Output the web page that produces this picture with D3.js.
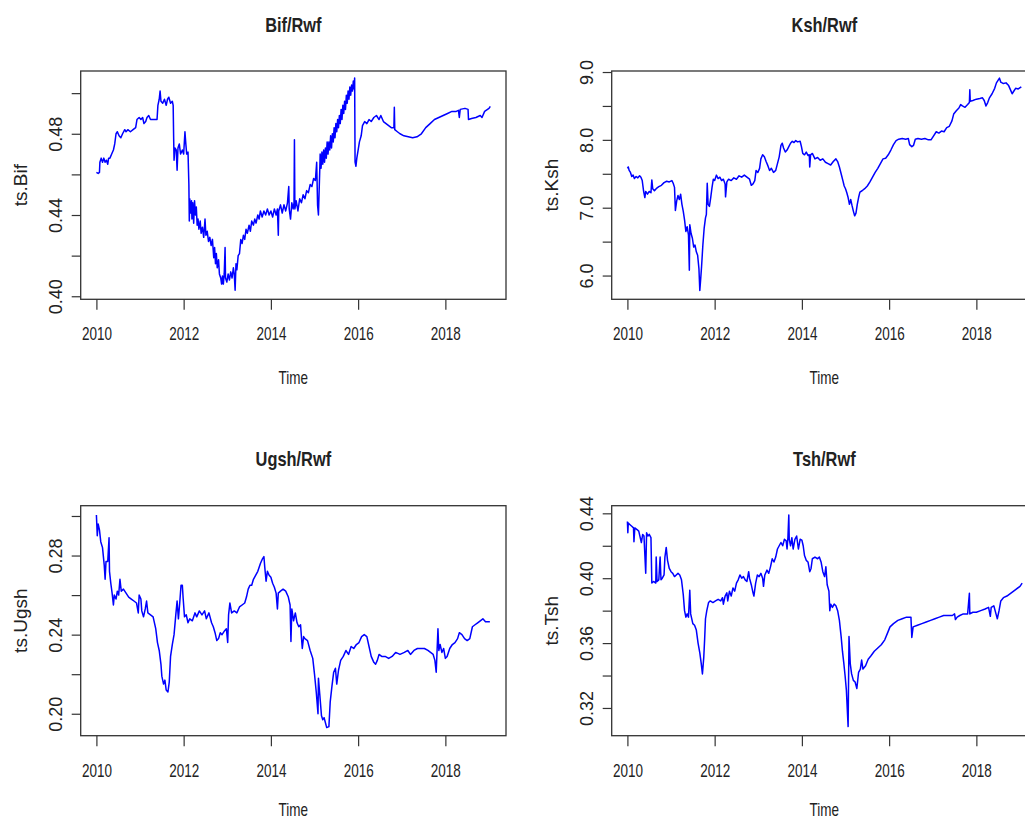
<!DOCTYPE html>
<html>
<head>
<meta charset="utf-8">
<script src="https://cdn.jsdelivr.net/npm/d3@7"></script>
<style>
  body { margin: 0; background: #fff; }
  text { font-family: "Liberation Sans", Arial, sans-serif; fill: #222; }
</style>
</head>
<body>
<div id="chart"></div>
<script>
// ---- data: [decimal year, rate] ----
var bif = [[2010.00,0.461],[2010.04,0.4605],[2010.07,0.461],[2010.08,0.466],[2010.11,0.468],[2010.14,0.466],[2010.17,0.468],[2010.20,0.466],[2010.23,0.467],[2010.26,0.465],[2010.28,0.468],[2010.31,0.468],[2010.35,0.470],[2010.39,0.472],[2010.42,0.475],[2010.45,0.480],[2010.48,0.481],[2010.52,0.479],[2010.56,0.478],[2010.60,0.480],[2010.65,0.482],[2010.68,0.481],[2010.72,0.482],[2010.78,0.481],[2010.84,0.482],[2010.90,0.483],[2010.93,0.487],[2010.98,0.488],[2011.02,0.487],[2011.06,0.488],[2011.09,0.485],[2011.13,0.486],[2011.16,0.488],[2011.20,0.489],[2011.24,0.487],[2011.30,0.487],[2011.36,0.487],[2011.39,0.487],[2011.41,0.494],[2011.44,0.497],[2011.46,0.501],[2011.48,0.496],[2011.52,0.495],[2011.56,0.497],[2011.60,0.494],[2011.63,0.497],[2011.66,0.498],[2011.70,0.495],[2011.74,0.496],[2011.76,0.494],[2011.77,0.479],[2011.78,0.467],[2011.80,0.473],[2011.83,0.472],[2011.85,0.462],[2011.87,0.473],[2011.90,0.475],[2011.93,0.470],[2011.97,0.472],[2012.00,0.470],[2012.03,0.481],[2012.05,0.475],[2012.07,0.470],[2012.10,0.471],
  [2012.12,0.455],[2012.13,0.437],[2012.14,0.448],[2012.16,0.441],[2012.18,0.447],[2012.19,0.438],[2012.21,0.446],[2012.23,0.436],[2012.25,0.447],[2012.27,0.440],[2012.29,0.444],[2012.31,0.435],[2012.33,0.438],[2012.35,0.433],[2012.38,0.437],[2012.40,0.431],[2012.43,0.434],[2012.46,0.429],[2012.49,0.438],[2012.51,0.430],[2012.54,0.432],[2012.57,0.427],[2012.60,0.429],[2012.63,0.425],[2012.66,0.428],[2012.69,0.419],[2012.71,0.424],[2012.73,0.416],[2012.75,0.421],[2012.77,0.414],[2012.80,0.418],[2012.82,0.411],[2012.85,0.409],[2012.87,0.406],[2012.89,0.410],[2012.91,0.406],[2012.93,0.411],[2012.95,0.424],[2012.96,0.409],[2012.99,0.407],[2013.02,0.411],[2013.05,0.408],[2013.08,0.412],[2013.11,0.409],[2013.14,0.414],[2013.16,0.411],[2013.18,0.403],[2013.20,0.416],[2013.22,0.413],[2013.25,0.420],[2013.28,0.421],[2013.31,0.428],
  [2013.34,0.426],[2013.37,0.430],[2013.40,0.428],[2013.43,0.433],[2013.46,0.431],[2013.50,0.435],[2013.53,0.432],[2013.56,0.437],[2013.60,0.435],[2013.63,0.438],[2013.66,0.436],[2013.70,0.440],[2013.73,0.438],[2013.76,0.442],[2013.80,0.439],[2013.84,0.442],[2013.88,0.440],[2013.92,0.443],[2013.96,0.440],[2014.00,0.442],[2014.04,0.439],[2014.08,0.443],[2014.12,0.440],[2014.15,0.443],[2014.17,0.430],[2014.18,0.442],[2014.22,0.445],[2014.26,0.441],[2014.30,0.445],[2014.34,0.442],[2014.38,0.446],[2014.41,0.454],[2014.42,0.443],[2014.45,0.438],[2014.48,0.446],[2014.51,0.443],[2014.53,0.446],[2014.54,0.477],[2014.55,0.443],[2014.58,0.447],[2014.62,0.442],[2014.66,0.448],[2014.70,0.446],[2014.74,0.450],[2014.78,0.448],[2014.82,0.452],[2014.86,0.451],[2014.90,0.455],[2014.94,0.454],[2014.98,0.458],[2015.02,0.457],[2015.05,0.466],[2015.07,0.445],[2015.09,0.440],
  [2015.12,0.462],[2015.13,0.470],[2015.15,0.463],[2015.17,0.471],[2015.19,0.465],[2015.21,0.472],[2015.23,0.466],[2015.25,0.473],[2015.27,0.468],[2015.29,0.476],[2015.31,0.470],[2015.33,0.476],[2015.35,0.472],[2015.37,0.479],[2015.39,0.473],[2015.41,0.480],[2015.43,0.476],[2015.45,0.483],[2015.47,0.478],[2015.49,0.485],[2015.51,0.481],[2015.53,0.487],[2015.55,0.483],[2015.57,0.489],[2015.59,0.485],[2015.61,0.492],[2015.63,0.487],[2015.65,0.494],[2015.67,0.490],[2015.69,0.496],[2015.71,0.492],[2015.73,0.499],[2015.75,0.495],[2015.77,0.501],[2015.79,0.497],[2015.81,0.503],[2015.83,0.499],[2015.85,0.504],[2015.87,0.501],[2015.89,0.506],[2015.91,0.502],[2015.92,0.5075],[2015.93,0.466],[2015.95,0.464],[2015.97,0.468],
  [2016.00,0.472],[2016.03,0.476],[2016.07,0.479],[2016.10,0.484],[2016.15,0.486],[2016.20,0.485],[2016.25,0.487],[2016.30,0.486],[2016.36,0.488],[2016.42,0.489],[2016.48,0.487],[2016.52,0.489],[2016.58,0.486],[2016.64,0.485],[2016.70,0.484],[2016.76,0.483],[2016.82,0.483],[2016.83,0.493],[2016.84,0.482],[2016.90,0.481],[2016.96,0.480],[2017.05,0.479],[2017.15,0.4785],[2017.25,0.478],[2017.35,0.4785],[2017.45,0.480],[2017.55,0.483],[2017.65,0.485],[2017.75,0.487],[2017.85,0.488],[2017.95,0.489],[2018.05,0.490],[2018.15,0.491],[2018.25,0.491],[2018.30,0.4915],[2018.32,0.488],[2018.34,0.492],[2018.45,0.4925],[2018.52,0.492],[2018.53,0.487],[2018.60,0.4875],[2018.70,0.488],[2018.80,0.489],[2018.84,0.488],[2018.90,0.491],[2019.00,0.4925],[2019.03,0.4935]];

var ksh = [[2010.00,7.58],[2010.02,7.60],[2010.04,7.55],[2010.07,7.52],[2010.10,7.46],[2010.13,7.48],[2010.16,7.43],[2010.20,7.46],[2010.24,7.44],[2010.28,7.47],[2010.31,7.45],[2010.34,7.40],[2010.37,7.25],[2010.40,7.15],[2010.42,7.24],[2010.46,7.20],[2010.50,7.24],[2010.54,7.22],[2010.56,7.41],[2010.58,7.28],[2010.62,7.25],[2010.66,7.28],[2010.72,7.31],[2010.78,7.33],[2010.84,7.37],[2010.90,7.39],[2010.96,7.38],[2011.02,7.40],[2011.05,7.36],[2011.08,7.30],[2011.10,6.96],[2011.13,7.10],[2011.16,7.18],[2011.19,7.12],[2011.22,7.20],[2011.25,7.05],[2011.28,6.95],[2011.31,6.82],[2011.34,6.65],[2011.37,6.72],[2011.40,6.60],[2011.42,6.08],[2011.43,6.75],[2011.46,6.62],[2011.49,6.55],[2011.52,6.42],[2011.55,6.45],[2011.58,6.35],[2011.61,6.30],[2011.64,6.10],[2011.66,5.78],[2011.68,5.95],[2011.70,6.13],[2011.73,6.45],[2011.76,6.70],[2011.79,6.85],[2011.81,6.90],[2011.83,7.36],[2011.85,7.05],[2011.88,7.02],[2011.91,7.15],[2011.94,7.30],[2011.97,7.42],[2012.00,7.40],[2012.04,7.48],[2012.08,7.43],[2012.12,7.45],[2012.16,7.40],[2012.20,7.42],[2012.24,7.35],[2012.25,7.16],[2012.28,7.38],[2012.32,7.42],[2012.38,7.40],[2012.44,7.44],[2012.50,7.42],[2012.56,7.47],[2012.62,7.45],[2012.68,7.48],[2012.74,7.45],[2012.80,7.42],[2012.84,7.33],[2012.88,7.35],[2012.92,7.40],[2012.95,7.55],[2012.99,7.52],[2013.03,7.58],[2013.06,7.72],[2013.10,7.78],[2013.14,7.75],[2013.18,7.68],[2013.22,7.62],[2013.26,7.55],[2013.30,7.58],[2013.35,7.52],[2013.40,7.55],[2013.44,7.65],[2013.48,7.75],[2013.52,7.92],[2013.55,7.95],[2013.58,7.88],[2013.62,7.82],[2013.66,7.85],[2013.70,7.90],[2013.74,7.95],[2013.78,7.98],[2013.82,7.96],[2013.86,7.99],[2013.90,7.97],[2013.96,7.98],[2013.99,7.90],[2014.02,7.80],[2014.06,7.78],[2014.10,7.82],[2014.14,7.77],[2014.17,7.78],[2014.18,7.60],[2014.20,7.78],[2014.24,7.80],[2014.30,7.72],[2014.36,7.74],[2014.42,7.70],[2014.48,7.72],[2014.54,7.67],[2014.60,7.65],[2014.66,7.63],[2014.72,7.68],[2014.78,7.72],[2014.82,7.68],[2014.86,7.60],[2014.90,7.50],[2014.94,7.40],[2014.97,7.32],[2015.00,7.28],[2015.03,7.22],[2015.06,7.15],[2015.09,7.05],[2015.12,7.12],[2015.15,7.03],[2015.18,6.95],[2015.21,6.88],[2015.24,6.92],[2015.27,7.05],[2015.30,7.15],[2015.33,7.23],[2015.38,7.25],[2015.44,7.28],[2015.50,7.32],[2015.56,7.38],[2015.62,7.45],[2015.68,7.52],[2015.74,7.58],[2015.80,7.65],[2015.86,7.72],[2015.92,7.73],[2015.98,7.78],[2016.04,7.85],[2016.10,7.93],[2016.16,7.99],[2016.22,8.01],[2016.30,8.02],[2016.38,8.01],[2016.44,8.02],[2016.47,7.93],[2016.52,7.90],[2016.56,7.92],[2016.60,8.01],[2016.66,8.02],[2016.74,8.01],[2016.82,8.02],[2016.90,8.00],[2016.96,8.00],[2017.02,8.06],[2017.08,8.12],[2017.14,8.10],[2017.20,8.13],[2017.26,8.12],[2017.32,8.18],[2017.38,8.20],[2017.44,8.28],[2017.48,8.38],[2017.54,8.43],[2017.60,8.47],[2017.64,8.52],[2017.68,8.50],[2017.74,8.48],[2017.80,8.52],[2017.84,8.55],[2017.85,8.74],[2017.86,8.57],[2017.92,8.58],[2018.00,8.60],[2018.08,8.61],[2018.14,8.62],[2018.18,8.58],[2018.22,8.50],[2018.26,8.55],[2018.30,8.62],[2018.36,8.68],[2018.42,8.76],[2018.46,8.84],[2018.50,8.88],[2018.53,8.91],[2018.56,8.85],[2018.62,8.83],[2018.68,8.84],[2018.74,8.80],[2018.78,8.74],[2018.82,8.68],[2018.86,8.72],[2018.90,8.76],[2018.96,8.75],[2019.03,8.78]];

var ugsh = [[2010.00,0.3005],[2010.02,0.290],[2010.04,0.296],[2010.07,0.293],[2010.10,0.287],[2010.14,0.284],[2010.18,0.275],[2010.20,0.268],[2010.22,0.277],[2010.26,0.277],[2010.29,0.289],[2010.30,0.272],[2010.33,0.266],[2010.36,0.261],[2010.39,0.255],[2010.41,0.260],[2010.45,0.258],[2010.48,0.262],[2010.51,0.260],[2010.54,0.268],[2010.57,0.262],[2010.62,0.263],[2010.68,0.261],[2010.74,0.259],[2010.80,0.258],[2010.86,0.257],[2010.92,0.256],[2010.96,0.251],[2010.98,0.260],[2011.02,0.258],[2011.04,0.252],[2011.08,0.249],[2011.12,0.253],[2011.15,0.257],[2011.18,0.251],[2011.24,0.250],[2011.30,0.249],[2011.36,0.243],[2011.40,0.236],[2011.44,0.232],[2011.48,0.225],[2011.50,0.219],[2011.54,0.215],[2011.57,0.217],[2011.60,0.212],[2011.64,0.211],[2011.67,0.216],[2011.70,0.229],[2011.74,0.235],[2011.78,0.240],[2011.82,0.250],[2011.85,0.257],[2011.88,0.248],[2011.91,0.256],[2011.94,0.265],[2011.97,0.265],[2011.99,0.258],[2012.02,0.249],[2012.06,0.250],[2012.10,0.246],[2012.14,0.248],[2012.20,0.247],[2012.26,0.251],[2012.30,0.249],[2012.36,0.252],[2012.42,0.250],[2012.48,0.252],[2012.52,0.248],[2012.58,0.251],[2012.64,0.246],[2012.68,0.244],[2012.72,0.241],[2012.76,0.237],[2012.80,0.238],[2012.84,0.241],[2012.88,0.240],[2012.94,0.242],[2012.98,0.243],[2013.01,0.236],[2013.03,0.250],[2013.06,0.256],[2013.10,0.251],[2013.16,0.252],[2013.22,0.251],[2013.28,0.254],[2013.34,0.255],[2013.40,0.256],[2013.44,0.259],[2013.48,0.263],[2013.52,0.265],[2013.56,0.265],[2013.60,0.268],[2013.65,0.270],[2013.70,0.272],[2013.76,0.276],[2013.80,0.278],[2013.84,0.2795],[2013.86,0.274],[2013.89,0.267],[2013.92,0.272],[2013.96,0.270],[2014.00,0.269],[2014.04,0.266],[2014.08,0.264],[2014.12,0.261],[2014.15,0.253],[2014.17,0.261],[2014.22,0.262],[2014.28,0.263],[2014.34,0.262],[2014.40,0.259],[2014.44,0.255],[2014.46,0.2365],[2014.48,0.253],[2014.52,0.247],[2014.56,0.251],[2014.60,0.246],[2014.64,0.244],[2014.68,0.245],[2014.72,0.233],[2014.75,0.239],[2014.78,0.238],[2014.84,0.237],[2014.90,0.232],[2014.96,0.228],[2015.00,0.220],[2015.04,0.211],[2015.08,0.200],[2015.09,0.218],[2015.12,0.210],[2015.16,0.199],[2015.19,0.197],[2015.22,0.198],[2015.28,0.193],[2015.33,0.1935],[2015.36,0.206],[2015.40,0.214],[2015.44,0.221],[2015.48,0.223],[2015.51,0.215],[2015.55,0.222],[2015.60,0.227],[2015.66,0.229],[2015.72,0.232],[2015.78,0.230],[2015.84,0.234],[2015.90,0.233],[2015.96,0.235],[2016.02,0.236],[2016.08,0.239],[2016.14,0.240],[2016.20,0.239],[2016.25,0.234],[2016.30,0.229],[2016.36,0.226],[2016.40,0.225],[2016.44,0.227],[2016.48,0.230],[2016.54,0.229],[2016.62,0.229],[2016.70,0.228],[2016.78,0.229],[2016.86,0.231],[2016.96,0.230],[2017.06,0.231],[2017.14,0.232],[2017.20,0.230],[2017.28,0.232],[2017.36,0.233],[2017.44,0.233],[2017.52,0.233],[2017.60,0.232],[2017.66,0.231],[2017.72,0.230],[2017.76,0.227],[2017.79,0.221],[2017.81,0.232],[2017.83,0.243],[2017.85,0.232],[2017.88,0.235],[2017.92,0.231],[2017.96,0.233],[2018.00,0.228],[2018.04,0.229],[2018.10,0.233],[2018.16,0.235],[2018.22,0.236],[2018.28,0.238],[2018.32,0.241],[2018.38,0.240],[2018.44,0.238],[2018.50,0.237],[2018.56,0.238],[2018.62,0.244],[2018.68,0.245],[2018.74,0.246],[2018.80,0.247],[2018.86,0.248],[2018.92,0.2465],[2019.02,0.2465]];

var tsh = [[2010.00,0.435],[2010.01,0.428],[2010.02,0.434],[2010.06,0.433],[2010.10,0.432],[2010.14,0.431],[2010.15,0.4225],[2010.17,0.431],[2010.22,0.430],[2010.26,0.429],[2010.32,0.422],[2010.35,0.427],[2010.38,0.426],[2010.42,0.403],[2010.44,0.428],[2010.47,0.426],[2010.50,0.427],[2010.54,0.425],[2010.56,0.397],[2010.60,0.398],[2010.65,0.397],[2010.66,0.413],[2010.68,0.398],[2010.72,0.399],[2010.75,0.413],[2010.77,0.399],[2010.80,0.400],[2010.84,0.402],[2010.86,0.413],[2010.89,0.419],[2010.92,0.411],[2010.96,0.406],[2011.00,0.404],[2011.04,0.403],[2011.08,0.401],[2011.12,0.402],[2011.16,0.403],[2011.20,0.402],[2011.24,0.399],[2011.28,0.390],[2011.31,0.380],[2011.34,0.376],[2011.37,0.378],[2011.40,0.376],[2011.43,0.3925],[2011.45,0.378],[2011.50,0.372],[2011.54,0.371],[2011.58,0.368],[2011.62,0.360],[2011.66,0.354],[2011.69,0.348],[2011.72,0.341],[2011.75,0.351],[2011.77,0.362],[2011.79,0.375],[2011.82,0.380],[2011.86,0.385],[2011.90,0.386],[2011.96,0.385],[2012.02,0.386],[2012.08,0.387],[2012.14,0.386],[2012.18,0.388],[2012.20,0.384],[2012.24,0.389],[2012.28,0.391],[2012.30,0.386],[2012.34,0.392],[2012.38,0.389],[2012.42,0.394],[2012.46,0.392],[2012.50,0.397],[2012.54,0.399],[2012.58,0.402],[2012.62,0.400],[2012.66,0.401],[2012.70,0.399],[2012.74,0.398],[2012.78,0.404],[2012.80,0.400],[2012.84,0.396],[2012.88,0.391],[2012.90,0.389],[2012.94,0.397],[2012.98,0.402],[2013.02,0.401],[2013.06,0.403],[2013.10,0.400],[2013.12,0.395],[2013.15,0.402],[2013.20,0.405],[2013.24,0.403],[2013.28,0.407],[2013.32,0.412],[2013.36,0.410],[2013.40,0.413],[2013.44,0.418],[2013.48,0.420],[2013.52,0.422],[2013.56,0.420],[2013.60,0.424],[2013.64,0.423],[2013.66,0.418],[2013.68,0.425],[2013.70,0.439],[2013.71,0.424],[2013.74,0.420],[2013.77,0.425],[2013.80,0.418],[2013.84,0.424],[2013.88,0.426],[2013.92,0.418],[2013.96,0.424],[2014.00,0.4235],[2014.03,0.420],[2014.06,0.414],[2014.10,0.411],[2014.14,0.410],[2014.18,0.404],[2014.21,0.406],[2014.24,0.412],[2014.30,0.413],[2014.36,0.412],[2014.40,0.413],[2014.44,0.410],[2014.48,0.404],[2014.52,0.401],[2014.55,0.407],[2014.58,0.396],[2014.62,0.392],[2014.64,0.380],[2014.66,0.384],[2014.70,0.382],[2014.74,0.384],[2014.78,0.383],[2014.82,0.380],[2014.86,0.374],[2014.90,0.364],[2014.93,0.355],[2014.96,0.348],[2014.99,0.340],[2015.02,0.331],[2015.06,0.3085],[2015.08,0.364],[2015.11,0.347],[2015.14,0.341],[2015.18,0.337],[2015.22,0.336],[2015.26,0.332],[2015.30,0.342],[2015.34,0.344],[2015.37,0.3495],[2015.40,0.344],[2015.46,0.346],[2015.52,0.350],[2015.58,0.352],[2015.66,0.355],[2015.74,0.357],[2015.82,0.359],[2015.90,0.362],[2015.96,0.366],[2016.02,0.370],[2016.10,0.372],[2016.20,0.374],[2016.30,0.375],[2016.40,0.376],[2016.50,0.376],[2016.52,0.3635],[2016.55,0.370],[2016.65,0.371],[2016.75,0.372],[2016.85,0.373],[2016.95,0.374],[2017.05,0.375],[2017.15,0.376],[2017.25,0.377],[2017.35,0.377],[2017.45,0.377],[2017.50,0.378],[2017.52,0.3745],[2017.56,0.376],[2017.62,0.377],[2017.70,0.378],[2017.80,0.378],[2017.84,0.3907],[2017.85,0.378],[2017.92,0.379],[2018.00,0.379],[2018.10,0.380],[2018.20,0.381],[2018.28,0.382],[2018.32,0.3765],[2018.34,0.382],[2018.40,0.383],[2018.45,0.378],[2018.48,0.375],[2018.52,0.380],[2018.56,0.386],[2018.62,0.388],[2018.70,0.389],[2018.80,0.391],[2018.90,0.393],[2019.00,0.395],[2019.05,0.397]];

// axis ticks and the ticks that carry a label
var xTicks = [2010, 2012, 2014, 2016, 2018];
var bifTicks = [0.40, 0.42, 0.44, 0.46, 0.48, 0.50];
var bifLabels = [0.40, 0.44, 0.48];
var kshTicks = [6.0, 6.5, 7.0, 7.5, 8.0, 8.5, 9.0];
var kshLabels = [6.0, 7.0, 8.0, 9.0];
var ugshTicks = [0.20, 0.22, 0.24, 0.26, 0.28, 0.30];
var ugshLabels = [0.20, 0.24, 0.28];
var tshTicks = [0.32, 0.34, 0.36, 0.38, 0.40, 0.42, 0.44];
var tshLabels = [0.32, 0.36, 0.40, 0.44];

var boxW = 425.3;

var svg = d3.select("#chart")
  .append("svg")
    .attr("width", 1025)
    .attr("height", 821);

svg.append("rect").attr("width", 1025).attr("height", 821).attr("fill", "#fff");

function panel(opt) {
  var g = svg.append("g");

  var x = d3.scaleLinear()
    .domain([2009.64, 2019.39])
    .range([opt.left, opt.left + boxW]);
  var y = d3.scaleLinear()
    .domain(opt.ydom)
    .range([opt.bottom, opt.top]);

  // x axis
  var xa = g.append("g")
    .attr("transform", "translate(0," + opt.bottom + ")")
    .call(d3.axisBottom(x).tickValues(xTicks).tickSize(10.5).tickFormat(d3.format("d")));
  xa.select(".domain").remove();
  xa.selectAll("line").attr("stroke", "#333").attr("stroke-width", 1.2);
  xa.selectAll("text")
    .attr("y", null).attr("dy", null)
    .attr("transform", "translate(0,41) scale(0.75,1)")
    .style("font-size", "18px")
    .attr("fill", "#222");

  // y axis: R leaves some labels out when they would overlap
  var ya = g.append("g")
    .attr("transform", "translate(" + opt.left + ",0)")
    .call(d3.axisLeft(y).tickValues(opt.ticks).tickSize(9)
      .tickFormat(function(d) {
        var hit = opt.labels.some(function(l) { return Math.abs(l - d) < 1e-9; });
        return hit ? d3.format(opt.fmt)(d) : "";
      }));
  ya.select(".domain").remove();
  ya.selectAll("line").attr("stroke", "#333").attr("stroke-width", 1.2);
  ya.selectAll("text")
    .attr("x", null).attr("dy", null)
    .attr("text-anchor", "middle")
    .attr("transform", "translate(-19,0) rotate(-90)")
    .style("font-size", "18px")
    .attr("fill", "#222");

  // series
  var line = d3.line()
    .x(function(d) { return x(d[0]); })
    .y(function(d) { return y(d[1]); });
  g.append("path")
    .datum(opt.data)
    .attr("fill", "none")
    .attr("stroke", "#0000ff")
    .attr("stroke-width", 1.5)
    .attr("stroke-linejoin", "round")
    .attr("d", line);

  // box
  g.append("rect")
    .attr("x", opt.left).attr("y", opt.top)
    .attr("width", boxW).attr("height", opt.bottom - opt.top)
    .attr("fill", "none")
    .attr("stroke", "#333")
    .attr("stroke-width", 1.3);

  var cx = opt.left + boxW / 2, cy = (opt.top + opt.bottom) / 2;

  g.append("text")
    .attr("transform", "translate(" + cx + "," + (opt.top - 39.3) + ") scale(0.82,1)")
    .attr("text-anchor", "middle")
    .style("font-size", "20px")
    .style("font-weight", "bold")
    .text(opt.title);

  g.append("text")
    .attr("transform", "translate(" + cx + "," + Math.min(opt.bottom + 85, 816) + ") scale(0.75,1)")
    .attr("text-anchor", "middle")
    .style("font-size", "18px")
    .text("Time");

  g.append("text")
    .attr("transform", "translate(" + (opt.left - 54) + "," + cy + ") rotate(-90)")
    .attr("text-anchor", "middle")
    .style("font-size", "19px")
    .text(opt.ylab);
}

panel({ left: 80.7, top: 71, bottom: 299.3, ydom: [0.3985, 0.5109], ticks: bifTicks, labels: bifLabels, fmt: ".2f",
        data: bif, title: "Bif/Rwf", ylab: "ts.Bif" });
panel({ left: 611.7, top: 71, bottom: 299.3, ydom: [5.65, 9.015], ticks: kshTicks, labels: kshLabels, fmt: ".1f",
        data: ksh, title: "Ksh/Rwf", ylab: "ts.Ksh" });
panel({ left: 80.7, top: 505.7, bottom: 735.7, ydom: [0.1889, 0.3052], ticks: ugshTicks, labels: ugshLabels, fmt: ".2f",
        data: ugsh, title: "Ugsh/Rwf", ylab: "ts.Ugsh" });
panel({ left: 611.7, top: 505.7, bottom: 735.7, ydom: [0.3029, 0.4447], ticks: tshTicks, labels: tshLabels, fmt: ".2f",
        data: tsh, title: "Tsh/Rwf", ylab: "ts.Tsh" });
</script>
</body>
</html>
